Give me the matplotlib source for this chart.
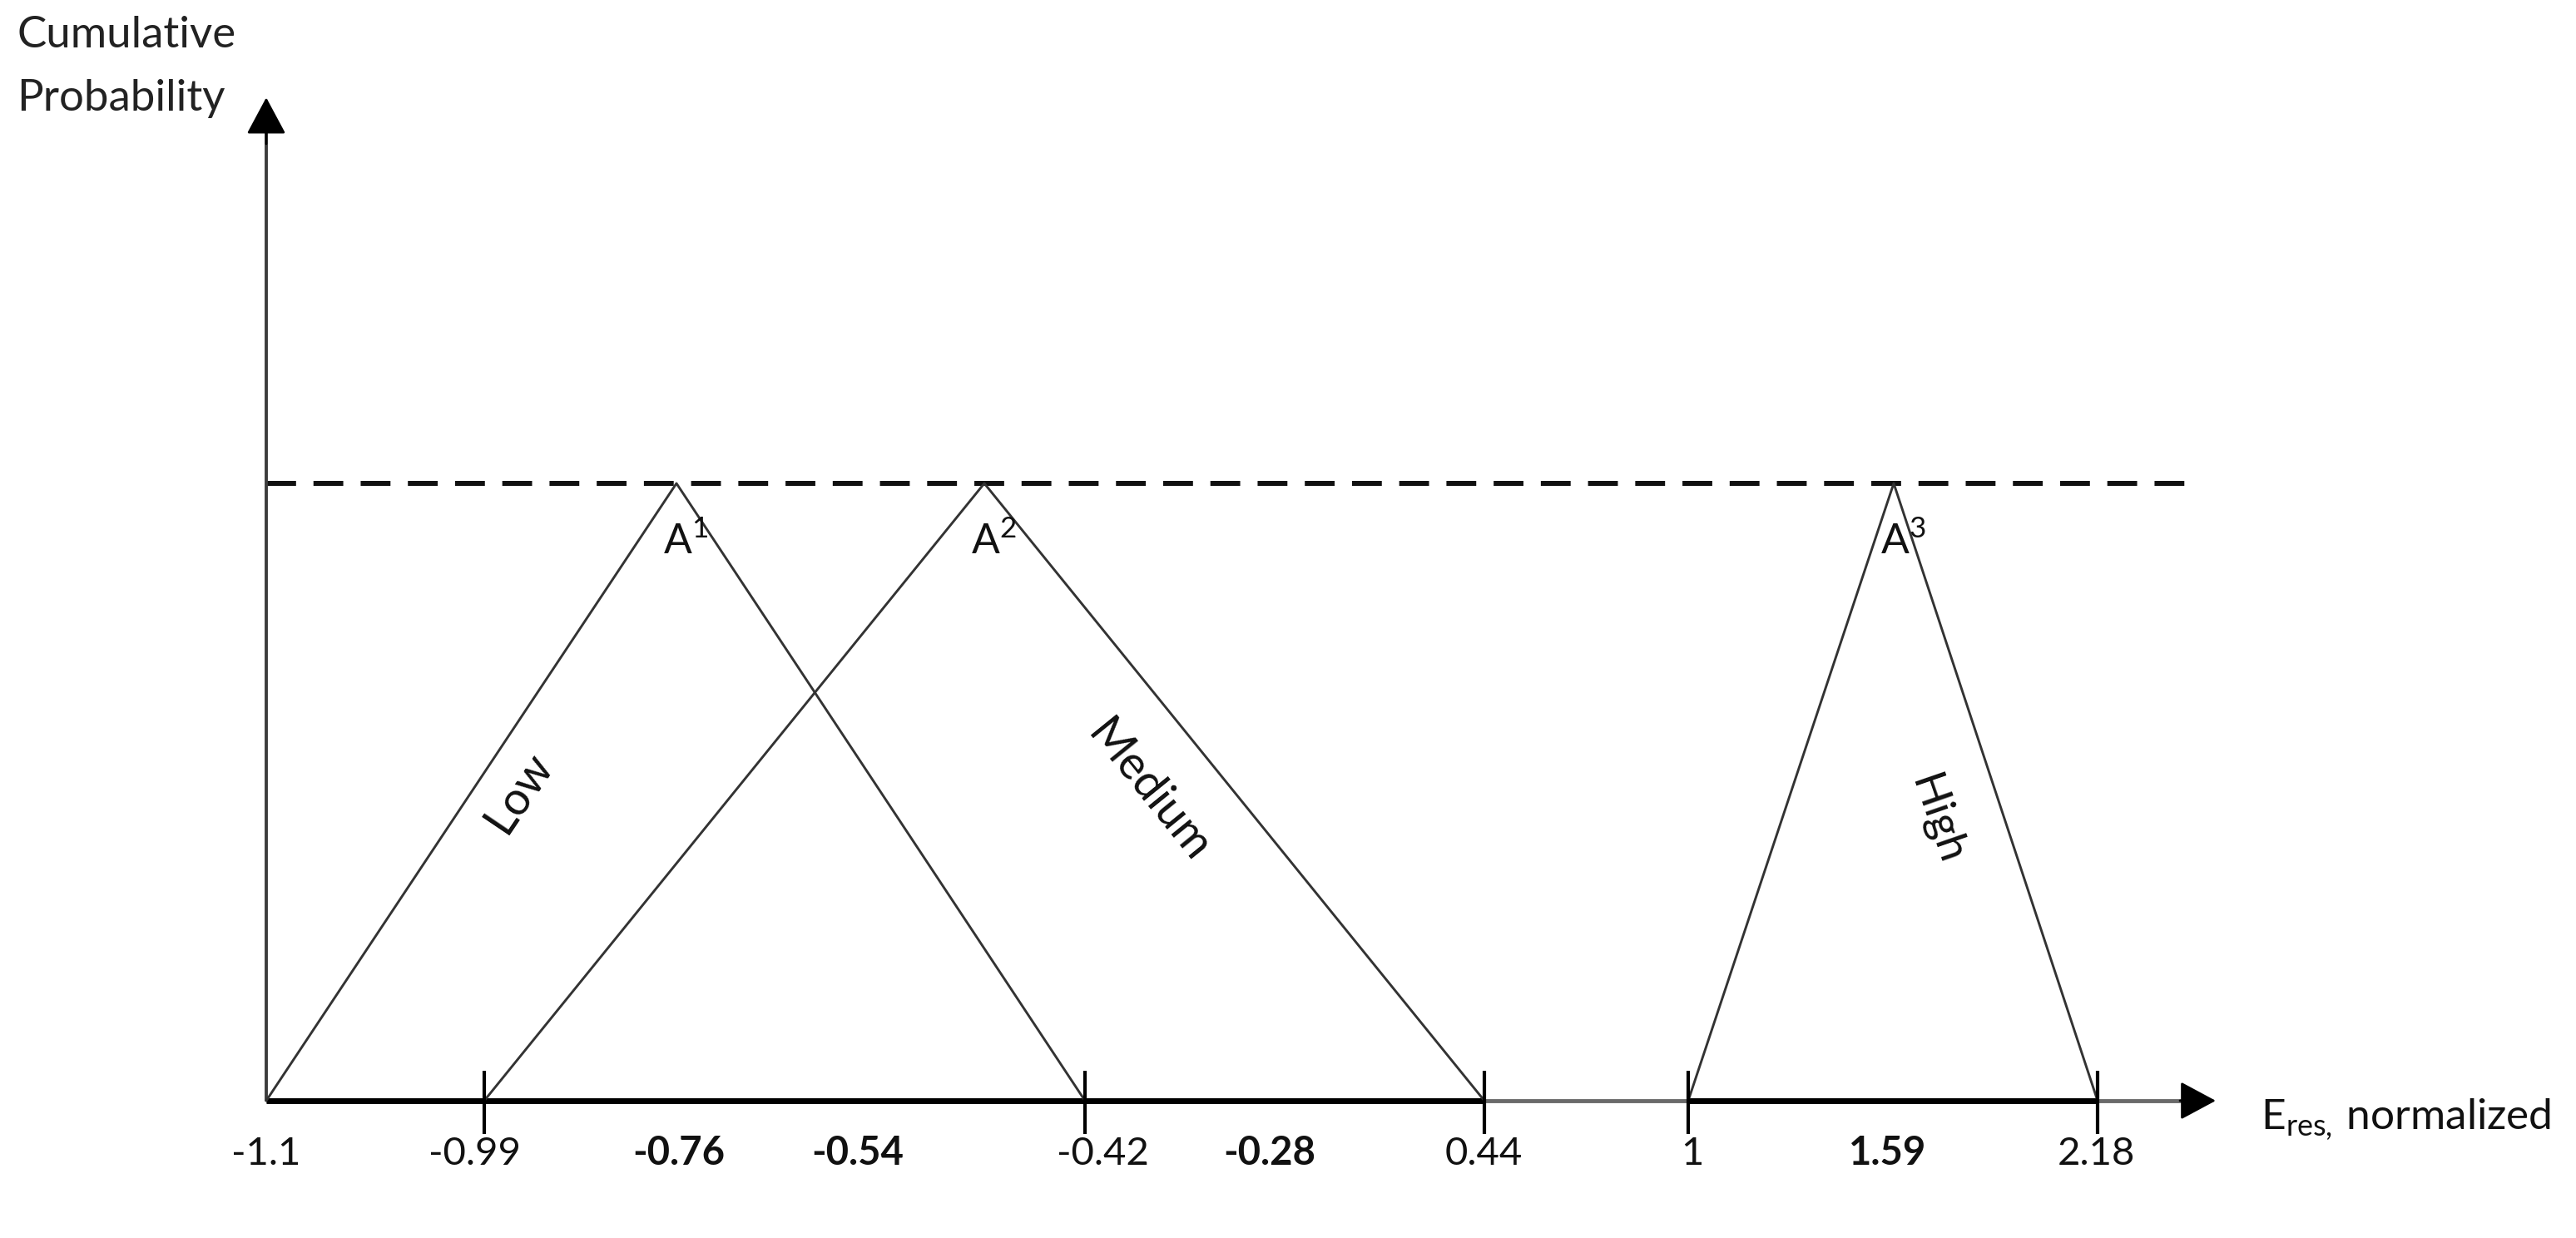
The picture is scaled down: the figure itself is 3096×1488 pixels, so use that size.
import matplotlib.pyplot as plt

plt.rcParams['font.family'] = ['Lato', 'DejaVu Sans']
plt.rcParams['mathtext.fontset'] = 'custom'
plt.rcParams['mathtext.rm'] = 'Lato'

# schematic x axis (not to scale): label text and where it sits on the axis
tick_labels = ['-1.1', '-0.99', '-0.76', '-0.54', '-0.42', '-0.28', '0.44', '1', '1.59', '2.18']
label_pos = [0.0, 2.51, 4.96, 7.11, 10.05, 12.06, 14.63, 17.14, 19.49, 21.99]
bold_labels = ['-0.76', '-0.54', '-0.28', '1.59']
tick_marks = [2.62, 9.84, 14.64, 17.09, 22.01]

# triangular membership functions (left foot, peak, right foot)
names = ['Low', 'Medium', 'High']
peak_names = [r'A$^{\mathregular{1}}$', r'A$^{\mathregular{2}}$', r'A$^{\mathregular{3}}$']
left_feet = [0.0, 2.62, 17.09]
peaks = [4.93, 8.63, 19.56]
right_feet = [9.84, 14.64, 22.01]
height = 1.0

fig = plt.figure(figsize=(30.96, 14.88), dpi=100)
ax = fig.add_axes([0, 0, 1, 1])
ax.set_xlim(-3.2, 27.76)
ax.set_ylim(-0.2224, 1.783)
ax.axis('off')

# x axis: dark where the sets live, lighter in the gaps
ax.plot([0, 23.1], [0, 0], color='#6a6a6a', lw=3.5, solid_capstyle='butt', zorder=2)
ax.plot([0, tick_marks[2]], [0, 0], color='black', lw=5, solid_capstyle='butt', zorder=3)
ax.plot([tick_marks[3], tick_marks[4]], [0, 0], color='black', lw=5, solid_capstyle='butt', zorder=3)
ax.annotate('', xy=(23.43, 0), xytext=(23.0, 0),
            arrowprops=dict(arrowstyle='-|>,head_length=2.7,head_width=1.45', mutation_scale=10,
                            color='black', lw=2, shrinkA=0, shrinkB=0))

# y axis
ax.plot([0, 0], [0, 1.58], color='#3c3c3c', lw=2.8, solid_capstyle='butt', zorder=2)
ax.annotate('', xy=(0, 1.625), xytext=(0, 1.55),
            arrowprops=dict(arrowstyle='-|>,head_length=2.8,head_width=1.5', mutation_scale=10,
                            color='black', lw=2, shrinkA=0, shrinkB=0))

for t in tick_marks:
    ax.plot([t, t], [-0.054, 0.049], color='black', lw=3, solid_capstyle='butt', zorder=4)

# full membership line
ax.plot([0, 23.12], [height, height], color='#111111', lw=4.3, linestyle=(0, (6, 3.5)), zorder=1)

for lf, pk, rf in zip(left_feet, peaks, right_feet):
    ax.plot([lf, pk, rf], [0, height, 0], color='#333333', lw=2.1, zorder=3)

for pk, lab in zip(peaks, peak_names):
    ax.text(pk - 0.16, 0.885, lab, fontsize=36, ha='left', va='baseline', color='#111111')

ax.text(3.04, 0.499, names[0], fontsize=40, rotation=56, ha='center', va='center',
        rotation_mode='anchor', color='#111111')
ax.text(10.6, 0.501, names[1], fontsize=40, rotation=-51, ha='center', va='center',
        rotation_mode='anchor', color='#111111')
ax.text(20.07, 0.455, names[2], fontsize=38, rotation=-71, ha='center', va='center',
        rotation_mode='anchor', color='#111111')

for pos, lab in zip(label_pos, tick_labels):
    ax.text(pos, -0.104, lab, fontsize=34, ha='center', va='baseline', color='#111111',
            fontweight='bold' if lab in bold_labels else 'normal')

ax.text(23.97, -0.047, r'E$_{\mathregular{res,}}\,$normalized', fontsize=37, ha='left',
        va='baseline', color='#111111')
ax.text(-3.0, 1.757, 'Cumulative\nProbability', fontsize=38, ha='left', va='top',
        linespacing=1.75, color='#222222')

fig.savefig('out.png', dpi=100, facecolor='white')
